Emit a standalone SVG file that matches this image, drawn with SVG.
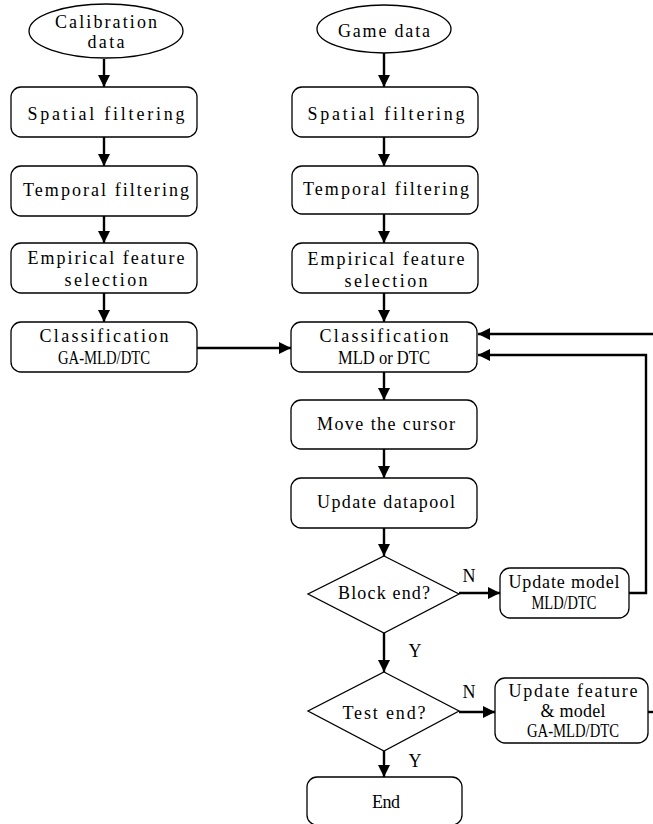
<svg xmlns="http://www.w3.org/2000/svg" width="653" height="824" viewBox="0 0 653 824">
<defs>
<marker id="ah" viewBox="0 0 12 12" refX="12" refY="6" markerWidth="12" markerHeight="12" markerUnits="userSpaceOnUse" orient="auto">
<path d="M0,0 L12,6 L0,12 Z" fill="#000"/>
</marker>
<style>
.box{fill:#fff;stroke:#000;stroke-width:1.3}
.t{font-family:"Liberation Serif","DejaVu Serif",serif;font-size:18px;fill:#000;text-anchor:middle}
.c{fill:none;stroke:#000;stroke-width:2.4}
.a{marker-end:url(#ah)}
</style>
</defs>
<rect width="653" height="824" fill="#fff"/>

<g id="connectors">
<line class="c a" x1="104" y1="59" x2="104" y2="87"/>
<line class="c a" x1="104" y1="137" x2="104" y2="166"/>
<line class="c a" x1="104" y1="216" x2="104" y2="243"/>
<line class="c a" x1="104" y1="293" x2="104" y2="322"/>
<line class="c a" x1="197" y1="348" x2="291" y2="348"/>
<line class="c a" x1="384" y1="53" x2="384" y2="87"/>
<line class="c a" x1="384" y1="137" x2="384" y2="166"/>
<line class="c a" x1="384" y1="214" x2="384" y2="243"/>
<line class="c a" x1="384" y1="293" x2="384" y2="322"/>
<line class="c a" x1="384" y1="372" x2="384" y2="400"/>
<line class="c a" x1="384" y1="449" x2="384" y2="478"/>
<line class="c a" x1="384" y1="528" x2="384" y2="556"/>
<line class="c a" x1="384" y1="633" x2="384" y2="672"/>
<line class="c a" x1="384" y1="751" x2="384" y2="777"/>
<line class="c a" x1="459" y1="593" x2="500" y2="593"/>
<polyline class="c a" points="629,593 646,593 646,355 478,355"/>
<line class="c a" x1="653" y1="334" x2="478" y2="334"/>
<line class="c a" x1="459" y1="712" x2="495" y2="712"/>
<line class="c" x1="648" y1="712" x2="653" y2="712"/>
<text class="t" x="415" y="657">Y</text>
<text class="t" x="415" y="767">Y</text>
<text class="t" x="469" y="582">N</text>
<text class="t" x="469" y="698">N</text>
</g>

<g id="calib">
<ellipse class="box" cx="106" cy="31" rx="77" ry="27"/>
<text class="t" x="106" y="28" textLength="102" lengthAdjust="spacing">Calibration</text>
<text class="t" x="106" y="48" textLength="37" lengthAdjust="spacing">data</text>
</g>
<g id="spatial1">
<rect class="box" x="11" y="87" width="186" height="50" rx="10"/>
<text class="t" x="106" y="120" textLength="157" lengthAdjust="spacing">Spatial filtering</text>
</g>
<g id="temporal1">
<rect class="box" x="11" y="166" width="186" height="50" rx="10"/>
<text class="t" x="106" y="196" textLength="166" lengthAdjust="spacing">Temporal filtering</text>
</g>
<g id="empirical1">
<rect class="box" x="11" y="243" width="186" height="50" rx="10"/>
<text class="t" x="106" y="264" textLength="157" lengthAdjust="spacing">Empirical feature</text>
<text class="t" x="106" y="286" textLength="83" lengthAdjust="spacing">selection</text>
</g>
<g id="class1">
<rect class="box" x="11" y="322" width="186" height="50" rx="10"/>
<text class="t" x="104" y="342" textLength="129" lengthAdjust="spacing">Classification</text>
<text class="t" x="104" y="364" textLength="92" lengthAdjust="spacingAndGlyphs">GA-MLD/DTC</text>
</g>

<g id="game">
<ellipse class="box" cx="384" cy="29" rx="67" ry="24"/>
<text class="t" x="384" y="37" textLength="92" lengthAdjust="spacing">Game data</text>
</g>
<g id="spatial2">
<rect class="box" x="292" y="87" width="186" height="50" rx="10"/>
<text class="t" x="386" y="120" textLength="157" lengthAdjust="spacing">Spatial filtering</text>
</g>
<g id="temporal2">
<rect class="box" x="292" y="166" width="186" height="48" rx="10"/>
<text class="t" x="386" y="195" textLength="166" lengthAdjust="spacing">Temporal filtering</text>
</g>
<g id="empirical2">
<rect class="box" x="292" y="243" width="186" height="50" rx="10"/>
<text class="t" x="386" y="265" textLength="157" lengthAdjust="spacing">Empirical feature</text>
<text class="t" x="386" y="287" textLength="83" lengthAdjust="spacing">selection</text>
</g>
<g id="class2">
<rect class="box" x="291" y="322" width="186" height="50" rx="10"/>
<text class="t" x="384" y="342" textLength="129" lengthAdjust="spacing">Classification</text>
<text class="t" x="384" y="364" textLength="92" lengthAdjust="spacingAndGlyphs">MLD or DTC</text>
</g>
<g id="move">
<rect class="box" x="291" y="400" width="186" height="49" rx="10"/>
<text class="t" x="386" y="430" textLength="138" lengthAdjust="spacing">Move the cursor</text>
</g>
<g id="datapool">
<rect class="box" x="291" y="478" width="186" height="50" rx="10"/>
<text class="t" x="386" y="508" textLength="138" lengthAdjust="spacing">Update datapool</text>
</g>
<g id="blockend">
<polygon class="box" points="384,556 459,594 384,633 308,594"/>
<text class="t" x="384" y="599" textLength="92" lengthAdjust="spacing">Block end?</text>
</g>
<g id="testend">
<polygon class="box" points="384,672 459,711 384,751 308,711"/>
<text class="t" x="384" y="719" textLength="83" lengthAdjust="spacing">Test end?</text>
</g>
<g id="end">
<rect class="box" x="307" y="777" width="155" height="48" rx="10"/>
<text class="t" x="386" y="808" textLength="28" lengthAdjust="spacing">End</text>
</g>
<g id="updmodel">
<rect class="box" x="500" y="568" width="129" height="50" rx="10"/>
<text class="t" x="564" y="588" textLength="111" lengthAdjust="spacing">Update model</text>
<text class="t" x="564" y="609" textLength="65" lengthAdjust="spacingAndGlyphs">MLD/DTC</text>
</g>
<g id="updfeature">
<rect class="box" x="495" y="678" width="153" height="65" rx="10"/>
<text class="t" x="573" y="697" textLength="129" lengthAdjust="spacing">Update feature</text>
<text class="t" x="573" y="717" textLength="65" lengthAdjust="spacing">&amp; model</text>
<text class="t" x="573" y="737" textLength="92" lengthAdjust="spacingAndGlyphs">GA-MLD/DTC</text>
</g>
</svg>
